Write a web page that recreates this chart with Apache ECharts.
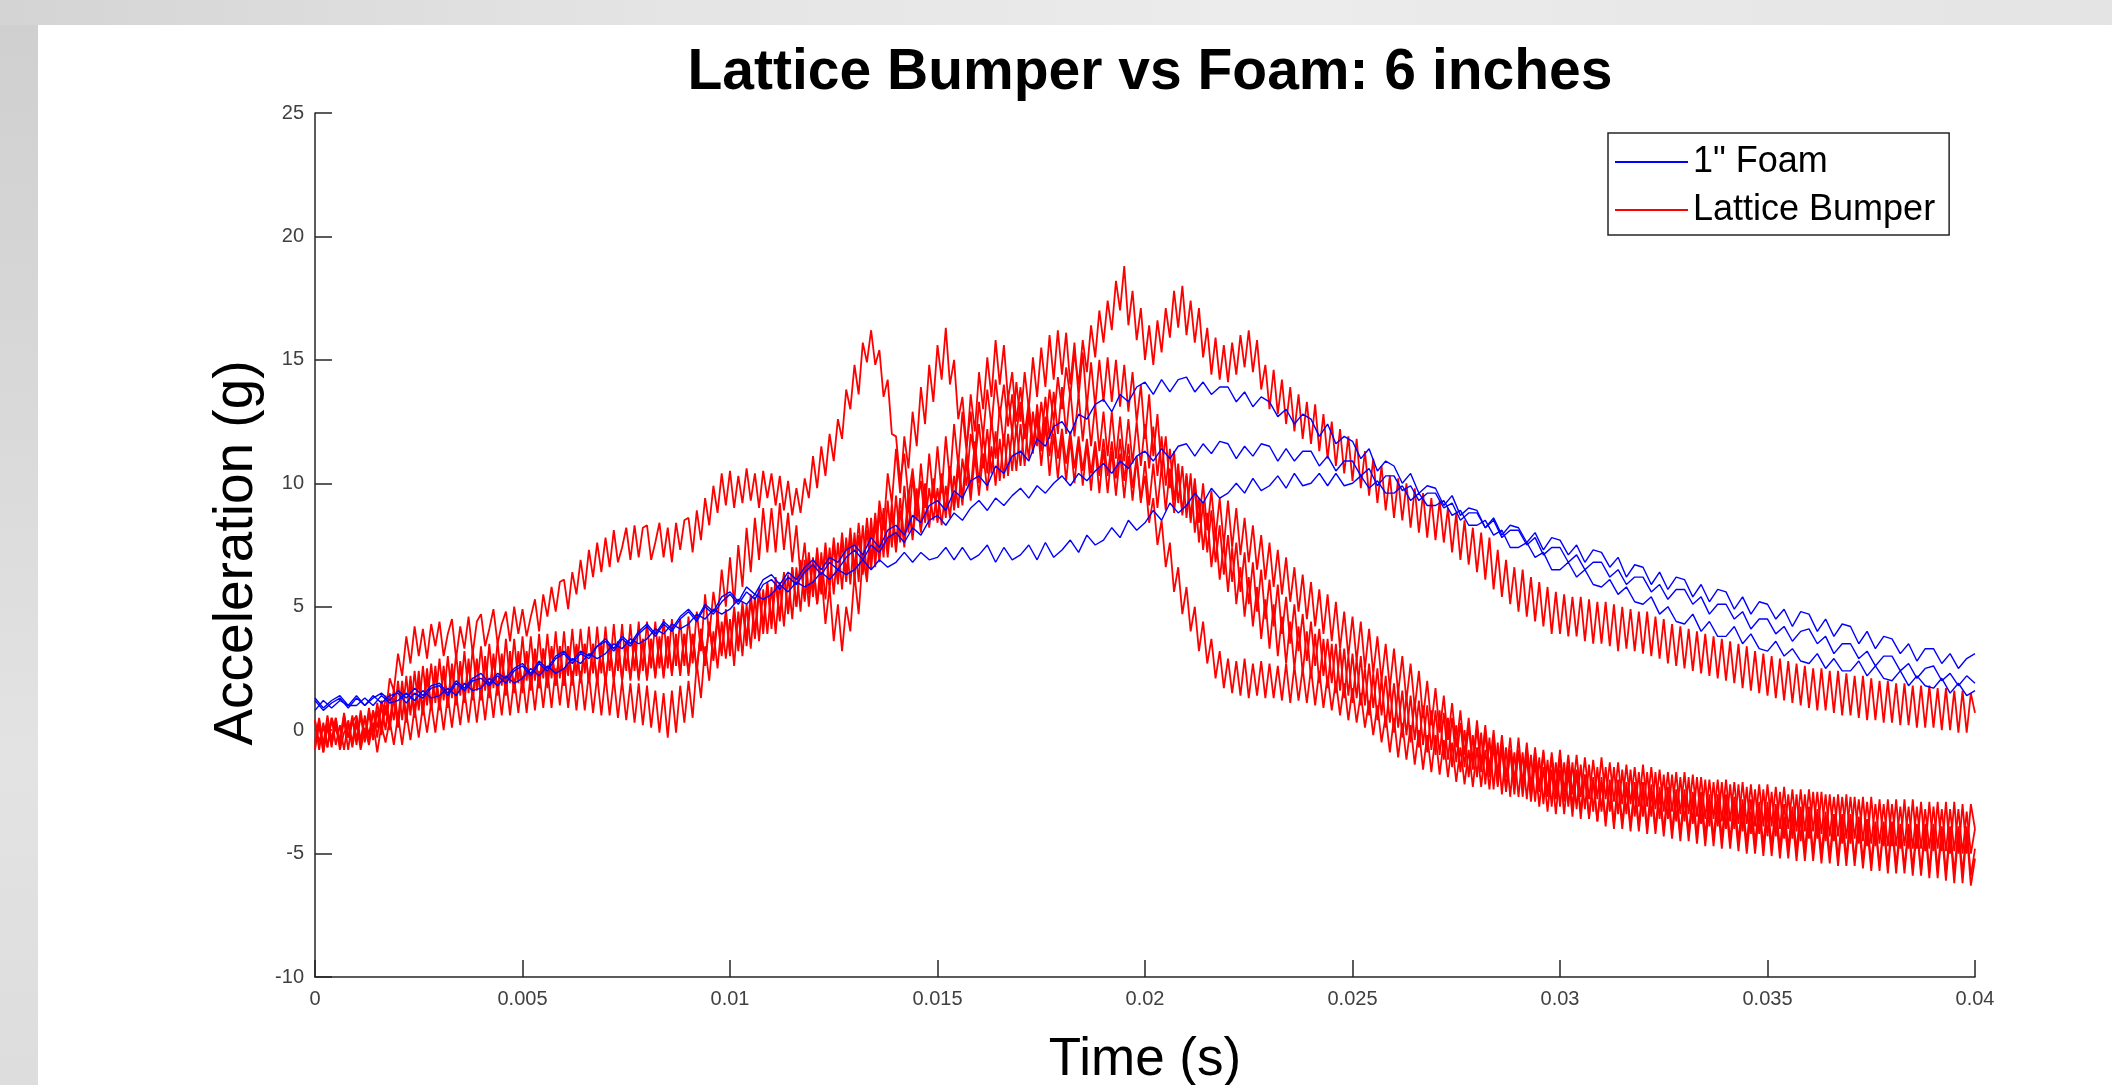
<!DOCTYPE html>
<html><head><meta charset="utf-8">
<script src="https://cdn.jsdelivr.net/npm/echarts@6/dist/echarts.min.js"></script>
<style>
html,body{margin:0;padding:0;width:2112px;height:1085px;overflow:hidden;}
body{background:linear-gradient(180deg,#cfcfcf 0%,#d8d8d8 35%,#e3e3e3 70%,#dddddd 100%);position:relative;}
#topband{position:absolute;left:0;top:0;width:2112px;height:25px;background:linear-gradient(90deg,#d4d4d4 0%,#e4e4e4 30%,#ececec 60%,#e4e4e4 100%);}
#paper{position:absolute;left:38px;top:25px;width:2074px;height:1060px;background:#fff;}
#chart{position:absolute;left:0;top:0;width:2112px;height:1085px;}
</style></head><body>
<div id="topband"></div><div id="paper"></div><div id="chart"></div>
<script>
// ---- data ----
const titleText = 'Lattice Bumper vs Foam: 6 inches';
const xName = 'Time (s)';
const yName = 'Acceleration (g)';
const seriesNames = ['1" Foam', 'Lattice Bumper'];
const xTicks = {min: 0, max: 0.04, interval: 0.005};
const yTicks = {min: -10, max: 25, interval: 5};
const foamDt = 0.0002;     // sample spacing of the foam traces (s)
const latticeDt = 0.0001;  // sample spacing of the lattice traces (s)

const foam1 = [
1.3,0.9,1.2,1.4,1.0, 1.4,1.0,1.3,1.5,1.2, 1.6,1.3,1.7,1.4,1.8, 1.9,1.5,2.0,1.7,2.1,
2.3,1.9,2.3,2.1,2.5, 2.7,2.3,2.8,2.5,3.0, 3.2,2.8,3.2,3.0,3.4, 3.7,3.3,3.8,3.5,4.0,
4.3,3.9,4.4,4.1,4.6, 4.9,4.5,5.1,4.8,5.4, 5.6,5.2,5.8,5.5,6.1, 6.3,5.9,6.4,6.1,6.6,
6.9,6.5,7.0,6.8,7.3, 7.5,7.1,7.8,7.4,8.1, 8.3,7.9,8.7,8.4,9.1, 9.3,8.9,9.7,9.4,10.1,
10.3,9.9,10.7,10.4,11.1, 11.3,10.9,11.8,11.5,12.3, 12.5,12.0,12.8,12.6,13.2, 13.4,12.9,13.6,13.3,13.9,
14.1,13.6,14.2,13.7,14.2, 14.3,13.7,14.1,13.6,13.9, 13.9,13.3,13.7,13.1,13.5, 13.3,12.7,13.0,12.4,12.8,
12.6,11.9,12.4,11.6,11.9, 11.7,11.0,11.4,10.5,10.9, 10.7,10.0,10.4,9.6,9.9, 9.8,9.1,9.5,8.7,9.0,
8.9,8.2,8.6,7.9,8.3, 8.2,7.6,8.0,7.3,7.8, 7.7,7.1,7.5,6.8,7.3, 7.2,6.6,7.0,6.2,6.7,
6.6,5.9,6.4,5.7,6.2, 6.1,5.4,5.9,5.2,5.7, 5.6,4.9,5.4,4.7,5.2, 5.1,4.5,4.9,4.2,4.8,
4.7,4.0,4.5,3.8,4.3, 4.2,3.5,4.0,3.3,3.8, 3.7,3.1,3.5,2.8,3.3, 3.3,2.7,3.1,2.5,2.9,
3.1];
const foam2 = [
1.2,0.8,1.1,1.3,0.9, 1.3,1.0,1.4,1.1,1.4, 1.5,1.1,1.5,1.3,1.7, 1.8,1.4,1.9,1.6,2.0,
2.1,1.8,2.2,1.9,2.4, 2.6,2.2,2.7,2.4,2.9, 3.1,2.7,3.1,2.9,3.4, 3.6,3.2,3.7,3.4,3.9,
4.2,3.8,4.3,4.0,4.5, 4.8,4.4,5.0,4.7,5.2, 5.5,5.1,5.6,5.3,5.9, 6.1,5.7,6.2,5.9,6.4,
6.7,6.3,6.8,6.5,7.0, 7.3,6.9,7.5,7.2,7.8, 8.0,7.6,8.2,7.9,8.5, 8.7,8.3,8.8,8.5,9.0,
9.3,8.9,9.4,9.1,9.5, 9.8,9.4,9.9,9.6,10.0, 10.3,9.9,10.4,10.1,10.5, 10.8,10.4,10.9,10.6,11.1,
11.3,10.9,11.4,11.0,11.5, 11.6,11.1,11.6,11.2,11.7, 11.6,11.0,11.5,11.1,11.6, 11.5,10.9,11.4,10.9,11.3,
11.3,10.7,11.1,10.5,10.9, 10.9,10.3,10.6,9.9,10.3, 10.3,9.7,9.9,9.3,9.6, 9.6,9.0,9.2,8.5,8.8,
8.8,8.2,8.5,7.8,8.1, 8.1,7.5,7.8,7.1,7.4, 7.4,6.8,7.1,6.5,6.8, 6.8,6.2,6.5,5.9,6.2,
6.2,5.6,5.9,5.3,5.7, 5.7,5.1,5.4,4.7,5.1, 5.1,4.5,4.8,4.1,4.5, 4.5,3.9,4.2,3.6,4.0,
4.1,3.5,3.8,3.1,3.5, 3.5,2.9,3.2,2.6,3.0, 3.0,2.4,2.7,2.1,2.5, 2.6,2.0,2.3,1.8,2.2,
1.9];
const foam3 = [
0.8,1.2,0.9,1.2,1.0, 1.0,1.3,1.0,1.4,1.1, 1.2,1.5,1.2,1.6,1.3, 1.4,1.7,1.4,1.9,1.6,
1.7,2.1,1.8,2.2,1.9, 2.1,2.5,2.2,2.6,2.3, 2.5,2.9,2.7,3.1,2.9, 3.1,3.5,3.3,3.7,3.5,
3.7,4.1,3.9,4.3,4.1, 4.3,4.7,4.5,4.9,4.7, 4.9,5.3,5.1,5.5,5.3, 5.5,5.9,5.6,6.0,5.8,
6.0,6.4,6.1,6.5,6.3, 6.5,6.9,6.5,6.9,6.6, 6.8,7.2,6.8,7.2,6.9, 7.0,7.4,6.9,7.4,6.9,
7.1,7.5,6.8,7.4,6.9, 7.1,7.5,6.9,7.6,7.0, 7.3,7.7,7.2,7.9,7.5, 7.7,8.2,7.8,8.5,8.1,
8.4,8.9,8.5,9.2,8.8, 9.1,9.6,9.2,9.8,9.4, 9.6,10.0,9.6,10.2,9.7, 9.9,10.3,9.8,10.4,9.9,
10.0,10.4,9.9,10.4,9.9, 10.0,10.3,9.8,10.1,9.6, 9.6,9.9,9.3,9.6,9.1, 9.1,9.3,8.7,8.9,8.3,
8.3,8.5,7.9,8.1,7.4, 7.4,7.6,7.0,7.2,6.5, 6.5,6.8,6.2,6.5,5.9, 5.8,6.1,5.5,5.8,5.2,
5.1,5.4,4.7,5.0,4.4, 4.3,4.7,4.0,4.4,3.8, 3.8,4.2,3.5,3.9,3.3, 3.2,3.6,3.0,3.3,2.8,
2.7,3.1,2.5,2.9,2.4, 2.4,2.8,2.2,2.6,2.1, 2.0,2.4,1.8,2.2,1.8, 1.7,2.1,1.5,1.9,1.4,
1.6];

const lattice1 = [
0.4,-0.5,0.2,-0.7,0.5,0.0,-0.4,0.6,-0.3,0.3,
0.6,-0.4,0.5,-0.2,0.8,0.1,1.2,0.6,2.1,1.6,
3.1,2.2,3.8,2.7,4.2,3.0,4.1,2.9,4.3,3.4,
4.4,3.0,3.9,4.5,2.9,4.2,3.3,4.6,3.1,4.4,
4.7,3.4,4.1,4.9,3.5,4.3,4.8,3.6,5.0,3.9,
4.9,3.8,4.6,5.3,4.0,5.5,4.6,5.8,4.8,6.0,
6.1,4.9,6.4,5.5,6.9,5.7,7.3,6.2,7.6,6.4,
7.8,6.6,8.1,6.8,7.4,8.2,6.9,8.3,7.0,8.2,
8.3,6.9,7.6,8.4,7.0,8.2,6.8,8.4,7.3,8.5,
8.6,7.2,8.9,7.7,9.4,8.3,9.9,8.8,10.4,9.1,
10.5,9.0,10.3,9.2,10.6,9.3,10.4,9.0,10.5,9.4,
10.4,9.1,10.3,8.9,10.1,8.7,9.8,8.8,10.2,9.4,
11.1,9.8,11.5,10.3,12.0,10.9,12.6,11.8,13.8,13.0,
14.8,13.6,15.7,14.9,16.2,14.8,15.4,13.5,14.2,12.0,
11.9,10.1,11.2,9.4,10.6,9.0,10.1,8.4,9.8,8.5,
9.8,8.3,9.9,8.6,10.3,9.0,11.0,9.9,12.0,11.1,
13.3,11.9,13.8,12.3,14.2,12.7,14.0,12.3,13.6,12.0,
13.3,11.8,13.0,11.5,12.9,11.3,12.7,11.1,12.5,11.0,
12.2,10.8,12.1,10.6,11.9,10.5,11.8,10.4,11.7,10.3,
11.8,10.3,11.7,10.2,11.8,10.1,11.6,9.8,11.1,9.3,
10.3,8.4,9.4,7.5,8.5,6.6,7.6,5.6,6.6,4.7,
5.8,4.0,5.0,3.2,4.4,2.7,3.7,2.1,3.2,1.7,
2.9,1.5,2.8,1.4,2.9,1.3,2.7,1.4,2.8,1.3,
2.7,1.3,2.6,1.2,2.7,1.1,2.6,1.2,2.5,1.1,
2.5,1.0,2.4,0.9,2.2,0.8,2.0,0.6,1.9,0.4,
1.7,0.3,1.5,0.1,1.2,-0.2,1.0,-0.5,0.6,-0.9,
0.5,-1.1,0.3,-1.2,0.2,-1.4,0.0,-1.6,-0.2,-1.7,
-0.2,-1.8,-0.4,-1.9,-0.5,-2.1,-0.7,-2.2,-0.8,-2.3,
-0.7,-2.3,-0.8,-2.4,-0.6,-2.3,-0.7,-2.5,-0.8,-2.4,
-0.8,-2.4,-0.7,-2.5,-0.9,-2.3,-0.8,-2.6,-0.9,-2.4,
-0.8,-2.5,-1.0,-2.6,-1.0,-2.7,-1.1,-2.8,-1.2,-2.8,
-1.1,-2.8,-1.3,-2.9,-1.3,-3.0,-1.4,-3.0,-1.5,-3.1,
-1.4,-3.1,-1.5,-3.2,-1.6,-3.3,-1.7,-3.3,-1.7,-3.4,
-1.7,-3.4,-1.8,-3.5,-1.9,-3.6,-2.0,-3.6,-2.0,-3.7,
-2.0,-3.7,-2.1,-3.8,-2.1,-3.8,-2.2,-3.9,-2.2,-3.9,
-2.2,-3.9,-2.3,-4.0,-2.3,-4.0,-2.4,-4.1,-2.4,-4.1,
-2.4,-4.1,-2.5,-4.2,-2.6,-4.3,-2.7,-4.3,-2.7,-4.4,
-2.7,-4.4,-2.8,-4.5,-2.9,-4.6,-3.0,-4.6,-3.0,-4.7,
-3.0,-4.7,-3.1,-4.7,-3.1,-4.8,-3.1,-4.8,-3.2,-4.8,
-3.1,-4.8,-3.2,-4.9,-3.2,-4.9,-3.2,-5.0,-3.3,-5.0,
-4.0];
const lattice2 = [
-0.7,0.2,-0.9,0.1,-0.6,0.3,-0.8,-0.1,0.2,-0.7,
0.3,-0.8,0.1,-0.6,0.3,-0.9,0.2,-0.5,0.4,-0.6,
0.6,-0.6,0.7,-0.4,0.9,-0.3,1.0,-0.1,1.1,-0.1,
1.3,0.0,1.4,0.1,1.5,0.2,1.6,0.3,1.7,0.3,
1.8,0.4,1.9,0.5,2.0,0.6,2.1,0.6,2.1,0.7,
2.2,0.7,2.3,0.8,2.4,0.9,2.4,0.9,2.5,1.0,
2.5,0.9,2.4,0.8,2.4,0.8,2.3,0.7,2.2,0.6,
2.2,0.6,2.1,0.5,2.0,0.4,1.9,0.3,1.9,0.2,
1.8,0.1,1.6,-0.1,1.5,-0.3,1.6,-0.1,1.8,0.3,
2.0,0.5,2.7,1.3,3.4,2.0,4.0,2.5,4.4,2.9,
4.5,2.6,4.8,3.0,5.1,3.3,5.4,3.6,5.7,3.9,
5.8,3.9,6.0,4.2,6.3,4.5,6.6,4.8,6.9,5.0,
7.0,5.1,7.2,5.3,7.4,5.5,7.6,5.7,7.8,5.9,
8.0,6.0,8.3,6.3,8.6,6.6,8.9,7.0,9.3,7.4,
9.5,7.6,9.9,8.0,10.3,8.5,10.8,9.0,11.2,9.4,
11.5,9.6,11.9,10.1,12.4,10.7,12.9,11.3,13.6,12.1,
14.5,13.0,15.1,13.5,15.8,14.0,15.6,13.4,14.5,12.5,
13.9,12.0,13.3,11.5,12.6,10.7,12.4,10.3,12.0,10.2,
11.9,10.1,11.8,10.0,11.7,9.9,11.6,9.7,11.5,9.6,
11.4,9.6,11.3,9.5,11.2,9.4,11.1,9.3,11.0,9.2,
10.9,9.1,10.8,9.0,10.7,8.9,10.6,8.8,10.5,8.7,
10.4,8.6,10.2,8.4,10.0,8.1,9.7,7.8,9.4,7.5,
9.3,7.4,9.0,7.1,8.6,6.8,8.3,6.5,7.9,6.1,
7.6,5.8,7.3,5.5,7.0,5.2,6.6,4.8,6.3,4.5,
6.0,4.2,5.7,3.9,5.5,3.6,5.2,3.3,4.8,3.0,
4.6,2.8,4.4,2.5,4.1,2.3,3.8,2.0,3.5,1.7,
3.3,1.5,3.0,1.2,2.7,0.9,2.4,0.5,2.0,0.2,
1.7,-0.1,1.4,-0.4,1.1,-0.7,0.8,-1.0,0.5,-1.3,
0.4,-1.4,0.2,-1.6,0.0,-1.8,-0.2,-1.9,-0.3,-2.1,
-0.3,-2.2,-0.5,-2.3,-0.7,-2.5,-0.9,-2.7,-1.1,-2.8,
-1.1,-2.9,-1.4,-3.1,-1.6,-3.3,-1.8,-3.5,-2.0,-3.7,
-2.1,-3.9,-2.2,-4.0,-2.2,-4.0,-2.3,-4.1,-2.4,-4.1,
-2.4,-4.2,-2.5,-4.2,-2.6,-4.3,-2.6,-4.4,-2.7,-4.5,
-2.7,-4.5,-2.8,-4.6,-2.9,-4.7,-3.0,-4.7,-3.0,-4.8,
-3.0,-4.8,-3.1,-4.9,-3.2,-5.0,-3.3,-5.0,-3.3,-5.1,
-3.3,-5.1,-3.4,-5.2,-3.5,-5.2,-3.5,-5.3,-3.5,-5.3,
-3.5,-5.3,-3.6,-5.4,-3.7,-5.4,-3.7,-5.5,-3.7,-5.5,
-3.7,-5.5,-3.8,-5.6,-3.9,-5.7,-3.9,-5.7,-3.9,-5.8,
-3.9,-5.8,-4.0,-5.8,-4.0,-5.9,-4.0,-5.9,-4.0,-6.0,
-4.0,-6.0,-4.1,-6.1,-4.1,-6.2,-4.1,-6.2,-4.1,-6.3,
-5.2];
const lattice3 = [
0.4,-0.8,0.3,-0.7,0.5,-0.6,0.2,-0.8,0.4,-0.5,
0.5,-0.6,0.6,-0.5,0.8,-0.3,1.0,0.0,1.5,0.4,
2.0,0.4,2.2,0.6,2.4,0.8,2.6,1.0,2.7,1.1,
2.9,1.2,3.0,1.3,3.1,1.4,3.2,1.5,3.3,1.6,
3.4,1.6,3.5,1.7,3.6,1.8,3.7,1.9,3.7,1.9,
3.8,2.0,3.8,2.0,3.9,2.1,3.9,2.1,4.0,2.1,
4.0,2.2,4.1,2.2,4.1,2.3,4.2,2.3,4.2,2.3,
4.2,2.4,4.3,2.4,4.3,2.4,4.3,2.4,4.4,2.4,
4.4,2.5,4.4,2.5,4.5,2.5,4.5,2.6,4.5,2.6,
4.6,2.7,4.8,3.2,5.5,3.8,5.6,4.5,6.5,5.0,
7.0,5.1,7.5,5.8,8.2,6.4,8.6,6.9,9.0,7.2,
9.0,7.2,9.2,7.3,8.8,6.8,8.3,6.2,7.6,5.5,
6.9,5.1,6.4,4.3,5.8,3.6,5.1,3.2,5.0,4.0,
6.3,4.7,7.1,6.0,8.2,7.0,9.3,8.1,10.4,9.2,
11.4,9.6,11.9,10.6,12.9,11.5,13.9,12.4,14.8,13.3,
15.6,14.2,16.3,14.0,15.0,12.6,13.5,11.5,12.9,10.9,
12.4,10.6,12.2,10.4,12.1,10.1,12.0,10.3,12.2,10.5,
12.4,10.7,12.8,11.2,13.2,11.6,13.5,11.8,13.7,12.0,
13.9,12.0,13.8,11.9,13.6,11.7,13.4,11.5,13.2,11.3,
12.9,11.1,12.9,11.0,12.7,10.9,12.6,10.8,12.5,10.7,
12.4,10.6,12.3,10.3,11.9,9.9,11.4,9.3,10.8,8.8,
10.3,8.4,9.9,7.6,9.2,7.2,8.9,6.8,8.3,6.3,
7.9,6.0,7.6,5.6,7.2,5.1,6.8,4.8,6.5,4.5,
6.1,4.2,5.9,3.9,5.4,3.5,5.1,3.2,4.7,2.8,
4.4,2.6,4.1,2.2,3.7,1.9,3.5,1.6,3.3,1.4,
3.1,1.3,3.0,1.0,2.7,0.9,2.5,0.6,2.2,0.3,
1.9,0.1,1.6,-0.2,1.4,-0.4,1.2,-0.6,1.0,-0.8,
0.8,-1.0,0.7,-1.2,0.5,-1.3,0.3,-1.5,0.2,-1.6,
0.1,-1.7,-0.1,-1.9,-0.4,-2.2,-0.6,-2.4,-0.8,-2.6,
-0.8,-2.7,-1.1,-2.9,-1.3,-3.1,-1.5,-3.3,-1.6,-3.4,
-1.6,-3.4,-1.7,-3.5,-1.7,-3.6,-1.8,-3.6,-1.9,-3.7,
-1.9,-3.7,-2.0,-3.8,-2.0,-3.8,-2.1,-3.9,-2.1,-3.9,
-2.1,-4.0,-2.2,-4.0,-2.3,-4.1,-2.3,-4.1,-2.4,-4.2,
-2.4,-4.2,-2.5,-4.3,-2.5,-4.3,-2.6,-4.4,-2.6,-4.4,
-2.6,-4.5,-2.7,-4.5,-2.8,-4.6,-2.8,-4.6,-2.9,-4.7,
-2.9,-4.7,-3.0,-4.8,-3.0,-4.8,-3.1,-4.9,-3.1,-4.9,
-3.1,-5.0,-3.2,-5.0,-3.3,-5.1,-3.4,-5.2,-3.4,-5.2,
-3.4,-5.3,-3.5,-5.3,-3.6,-5.4,-3.7,-5.5,-3.7,-5.5,
-3.7,-5.5,-3.8,-5.6,-3.8,-5.6,-3.8,-5.7,-3.8,-5.7,
-3.8,-5.7,-3.9,-5.8,-3.9,-5.8,-3.9,-5.8,-3.9,-5.9,
-4.8];
const lattice4 = [
-0.8,0.4,-0.9,0.3,-0.7,0.5,-0.6,0.4,-0.8,0.5,
-0.6,0.6,-0.5,0.7,-0.4,0.8,-0.2,1.0,0.0,1.3,
0.1,1.6,0.3,1.8,0.5,2.0,0.6,2.1,0.8,2.3,
0.8,2.4,0.9,2.5,1.0,2.6,1.1,2.7,1.2,2.8,
1.2,2.8,1.3,2.9,1.4,3.0,1.4,3.0,1.5,3.1,
1.5,3.1,1.6,3.2,1.7,3.3,1.7,3.3,1.8,3.4,
1.8,3.4,1.8,3.4,1.9,3.5,1.9,3.5,1.9,3.5,
1.9,3.5,2.0,3.6,2.0,3.6,2.1,3.7,2.1,3.7,
2.1,3.7,2.2,3.8,2.2,3.8,2.3,3.9,2.3,3.9,
2.3,3.9,2.4,4.1,2.6,4.3,2.8,4.5,3.0,4.7,
3.0,4.8,3.2,5.0,3.4,5.3,3.7,5.6,3.9,5.9,
4.1,6.0,4.4,6.3,4.7,6.6,5.0,6.9,5.3,7.2,
5.6,7.4,5.7,7.6,5.9,7.8,6.1,8.0,6.3,8.2,
6.5,8.4,6.7,8.6,6.9,8.8,7.1,9.0,7.3,9.2,
7.5,9.4,7.7,9.6,7.9,9.8,8.1,10.0,8.3,10.2,
8.5,10.4,8.8,10.7,9.1,11.0,9.4,11.3,9.7,11.7,
10.0,12.0,10.4,12.6,11.0,13.1,11.5,13.6,12.0,14.1,
12.5,14.5,13.0,15.1,13.5,15.5,13.9,16.0,14.2,16.2,
14.4,16.1,14.0,15.7,13.5,15.3,13.1,14.9,13.1,15.0,
13.3,15.1,13.3,15.0,13.1,14.8,12.9,14.5,12.5,14.0,
11.8,13.6,11.1,12.8,10.5,11.9,9.8,11.3,9.2,10.7,
8.6,10.4,8.0,9.4,7.3,8.8,6.6,8.1,6.1,7.6,
5.6,7.4,5.1,6.6,4.6,6.2,4.2,5.8,3.7,5.3,
3.3,5.1,3.0,4.6,2.7,4.4,2.5,4.2,2.3,4.0,
2.1,3.9,1.9,3.7,1.7,3.5,1.5,3.3,1.3,3.0,
1.1,2.9,1.0,2.5,0.6,2.3,0.4,2.1,0.1,1.8,
-0.1,1.7,-0.3,1.4,-0.5,1.2,-0.7,1.0,-0.9,0.8,
-1.0,0.8,-1.2,0.5,-1.5,0.2,-1.7,0.0,-1.9,-0.2,
-1.9,-0.1,-2.2,-0.3,-2.4,-0.5,-2.6,-0.7,-2.7,-0.9,
-2.7,-0.9,-2.8,-1.0,-2.9,-1.1,-3.0,-1.2,-3.1,-1.3,
-3.1,-1.3,-3.1,-1.3,-3.2,-1.4,-3.2,-1.4,-3.3,-1.5,
-3.3,-1.5,-3.3,-1.5,-3.4,-1.6,-3.4,-1.6,-3.5,-1.7,
-3.5,-1.7,-3.5,-1.7,-3.6,-1.8,-3.6,-1.8,-3.7,-1.9,
-3.7,-1.9,-3.8,-1.9,-3.8,-2.0,-3.9,-2.1,-3.9,-2.1,
-4.0,-2.2,-4.0,-2.2,-4.1,-2.3,-4.2,-2.4,-4.2,-2.4,
-4.3,-2.5,-4.3,-2.5,-4.4,-2.6,-4.4,-2.6,-4.5,-2.6,
-4.4,-2.5,-4.4,-2.5,-4.5,-2.6,-4.5,-2.6,-4.6,-2.6,
-4.6,-2.7,-4.6,-2.7,-4.7,-2.7,-4.7,-2.8,-4.7,-2.8,
-4.7,-2.8,-4.8,-2.8,-4.8,-2.8,-4.8,-2.9,-4.9,-2.9,
-4.9,-2.9,-4.9,-2.9,-5.0,-2.9,-5.0,-3.0,-5.0,-3.0,
-4.0];
const lattice5 = [
-0.5,0.5,-0.6,0.6,-0.4,0.5,-0.5,0.7,-0.3,0.6,
-0.4,0.8,-0.3,0.9,-0.1,1.1,0.1,1.4,0.3,1.7,
0.4,2.0,0.5,2.2,0.7,2.4,0.8,2.5,0.9,2.6,
1.0,2.6,1.1,2.7,1.2,2.8,1.2,2.9,1.3,2.9,
1.3,3.0,1.4,3.1,1.5,3.1,1.5,3.2,1.6,3.2,
1.6,3.2,1.7,3.3,1.7,3.3,1.8,3.4,1.8,3.4,
1.8,3.4,1.9,3.5,1.9,3.5,1.9,3.5,1.9,3.5,
1.9,3.5,2.0,3.6,2.0,3.6,2.0,3.6,2.0,3.7,
2.0,3.7,2.1,3.7,2.1,3.8,2.2,3.8,2.2,3.9,
2.2,3.9,2.4,4.1,2.6,4.4,2.9,4.7,3.1,4.9,
3.2,5.0,3.4,5.2,3.7,5.5,4.0,5.8,4.2,6.0,
4.4,6.2,4.6,6.4,4.8,6.6,5.0,6.8,5.2,7.0,
5.4,7.1,5.5,7.3,5.7,7.5,5.9,7.6,6.0,7.8,
6.1,7.9,6.3,8.1,6.5,8.4,6.8,8.6,7.0,8.8,
7.2,8.9,7.4,9.2,7.7,9.5,8.0,9.8,8.2,10.0,
8.4,10.1,8.6,10.4,8.9,10.6,9.1,10.9,9.3,11.1,
9.5,11.2,9.7,11.5,9.9,11.8,10.2,12.0,10.5,12.3,
10.7,12.4,11.0,12.9,11.5,13.3,12.0,13.8,12.5,14.3,
13.0,14.7,13.5,15.3,14.0,15.8,14.5,16.4,15.1,17.0,
15.7,17.4,16.2,18.2,17.0,18.8,16.4,17.8,15.8,17.1,
15.0,16.4,14.8,16.6,15.3,17.1,15.9,17.8,16.3,18.0,
16.0,17.4,15.7,17.1,15.1,16.3,14.4,15.9,14.2,15.6,
14.1,15.7,14.4,16.0,14.7,16.2,14.5,15.8,13.8,14.8,
13.0,14.6,12.8,14.2,12.4,13.9,12.1,13.6,11.8,13.3,
11.6,13.2,11.3,12.8,11.0,12.5,10.7,12.2,10.4,11.9,
10.1,11.8,9.8,11.3,9.5,11.0,9.2,10.7,8.9,10.3,
8.6,10.2,8.5,10.0,8.2,9.8,8.0,9.6,7.8,9.4,
7.7,9.3,7.6,9.0,7.2,8.8,6.9,8.5,6.7,8.2,
6.4,8.0,6.1,7.8,5.7,7.3,5.4,6.9,5.1,6.6,
4.8,6.5,4.6,6.2,4.4,6.0,4.2,5.8,3.9,5.6,
3.9,5.5,3.8,5.4,3.8,5.4,3.6,5.3,3.5,5.2,
3.5,5.2,3.4,5.1,3.2,5.0,3.3,4.9,3.2,4.8,
3.1,4.8,3.0,4.6,2.9,4.5,2.7,4.3,2.6,4.2,
2.5,4.1,2.4,4.0,2.3,3.9,2.2,3.8,2.1,3.7,
2.0,3.6,1.9,3.5,1.7,3.4,1.6,3.2,1.5,3.1,
1.4,3.0,1.3,2.9,1.2,2.8,1.1,2.7,1.0,2.6,
0.9,2.5,0.8,2.5,0.8,2.4,0.7,2.4,0.6,2.3,
0.6,2.2,0.5,2.2,0.4,2.1,0.4,2.0,0.3,2.0,
0.3,1.9,0.2,1.9,0.2,1.8,0.1,1.8,0.1,1.8,
0.1,1.7,0.0,1.7,0.0,1.6,-0.1,1.6,-0.1,1.5,
0.7];

// ---- chart ----
const FONT = '"Liberation Sans", Arial, Helvetica, sans-serif';
const AXIS = '#262626';
function pairs(vals, dt) { return vals.map((v, i) => [Math.round(i * dt * 1e7) / 1e7, v]); }
function mk(name, vals, dt, color, w) {
  return {
    name: name, type: 'line', data: pairs(vals, dt),
    symbol: 'none', showSymbol: false, smooth: false,
    lineStyle: {color: color, width: w}, itemStyle: {color: color},
    emphasis: {disabled: true}, animation: false
  };
}
const series = [];
[lattice1, lattice2, lattice3, lattice4, lattice5].forEach(a => series.push(mk(seriesNames[1], a, latticeDt, '#ff0000', 1.8)));
[foam1, foam2, foam3].forEach(a => series.push(mk(seriesNames[0], a, foamDt, '#0000ff', 1.4)));

const chart = echarts.init(document.getElementById('chart'), null, {renderer: 'canvas'});
chart.setOption({
  backgroundColor: 'transparent',
  animation: false,
  title: {
    text: titleText, left: 1145, top: 40, textAlign: 'center',
    textStyle: {fontSize: 57, fontWeight: 'bold', color: '#000', fontFamily: FONT}
  },
  legend: {
    data: seriesNames, orient: 'vertical', left: 1608, top: 133,
    icon: 'rect', itemWidth: 73, itemHeight: 2, itemGap: 12,
    padding: [11, 14, 7, 7],
    borderColor: '#262626', borderWidth: 1.5, backgroundColor: '#fff',
    textStyle: {fontSize: 36, color: '#000', fontFamily: FONT},
    selectedMode: false
  },
  grid: {left: 315, right: 137, top: 113, bottom: 108, containLabel: false, outerBoundsMode: 'none'},
  xAxis: {
    type: 'value', min: xTicks.min, max: xTicks.max, interval: xTicks.interval,
    name: xName, nameLocation: 'middle', nameGap: 57,
    nameTextStyle: {fontSize: 53, color: '#000', fontFamily: FONT},
    axisLine: {show: true, onZero: false, lineStyle: {color: AXIS, width: 1.5}},
    axisTick: {show: true, inside: true, length: 17, lineStyle: {color: AXIS, width: 1.5}},
    axisLabel: {fontSize: 20, color: '#404040', margin: 12, fontFamily: FONT},
    splitLine: {show: false}
  },
  yAxis: {
    type: 'value', min: yTicks.min, max: yTicks.max, interval: yTicks.interval,
    name: yName, nameLocation: 'middle', nameGap: 30, nameRotate: 90,
    nameTextStyle: {fontSize: 55, color: '#000', fontFamily: FONT, padding: [0, 16, 0, 0]},
    axisLine: {show: true, onZero: false, lineStyle: {color: AXIS, width: 1.5}},
    axisTick: {show: true, inside: true, length: 17, lineStyle: {color: AXIS, width: 1.5}},
    axisLabel: {fontSize: 20, color: '#404040', margin: 11, fontFamily: FONT},
    splitLine: {show: false}
  },
  series: series
});
</script></body></html>
